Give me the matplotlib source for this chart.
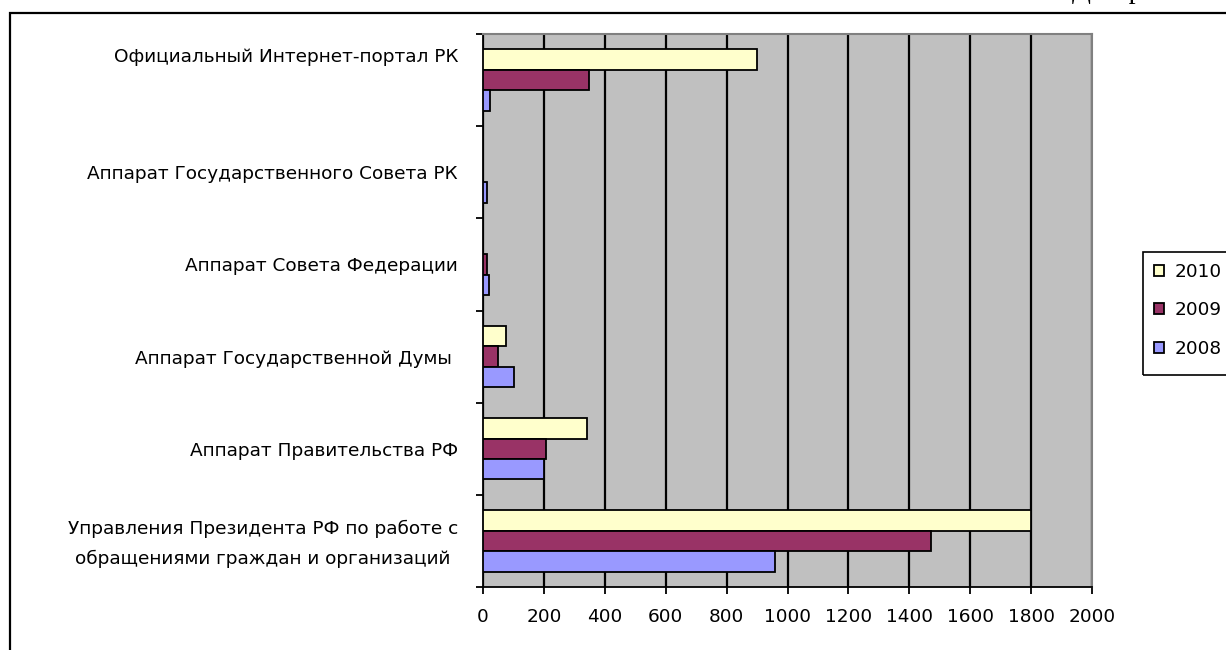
import matplotlib
matplotlib.use("Agg")
import matplotlib.pyplot as plt
from matplotlib.patches import Rectangle
from matplotlib.transforms import ScaledTranslation
import numpy as np

# categories listed bottom to top
categories = [
    "Управления Президента РФ по работе с\nобращениями граждан и организаций",
    "Аппарат Правительства РФ",
    "Аппарат Государственной Думы ",
    "Аппарат Совета Федерации",
    "Аппарат Государственного Совета РК",
    "Официальный Интернет-портал РК",
]
years = ["2010", "2009", "2008"]
v2010 = [1800, 340, 75, 0, 0, 900]
v2009 = [1470, 208, 48, 14, 0, 347]
v2008 = [958, 200, 103, 21, 14, 22]
xticks = list(range(0, 2001, 200))

colors = {"2010": "#FFFFCC", "2009": "#993366", "2008": "#9999FF"}

plt.rcParams['font.family'] = ['DejaVu Sans']
fs = 13.3

fig = plt.figure(figsize=(12.26, 6.5), dpi=100)
ax = fig.add_axes([483 / 1226, 1 - 587 / 650, (1092 - 483) / 1226, (587 - 34) / 650])
ax.set_facecolor("#C0C0C0")

y = np.arange(len(categories))
h = 1 / 4.5
bars = {}
for off, yr, vals in [(h, "2010", v2010), (0, "2009", v2009), (-h, "2008", v2008)]:
    bars[yr] = ax.barh(y + off, vals, height=h, color=colors[yr],
                       edgecolor="black", linewidth=1.3, label=yr, zorder=3)

ax.set_xlim(0, 2000)
ax.set_ylim(-0.5, len(categories) - 0.5)
ax.set_xticks(xticks)
ax.set_xticklabels([str(t) for t in xticks], fontsize=fs)
ax.set_yticks(y)
ax.set_yticklabels(categories, fontsize=fs, multialignment="center", linespacing=1.85)
ax.set_yticks(np.arange(-0.5, len(categories)), minor=True)
ax.tick_params(axis="y", which="major", length=0, pad=18)
ax.tick_params(axis="y", which="minor", length=5, width=1.3, direction="out")
ax.tick_params(axis="x", length=5, width=1.3, direction="out", pad=10)

ax.set_axisbelow(True)
ax.xaxis.grid(True, color="black", linewidth=1.6, zorder=1)
for s in ["left", "bottom"]:
    ax.spines[s].set_color("black")
    ax.spines[s].set_linewidth(1.3)
for s in ["top", "right"]:
    ax.spines[s].set_color("#808080")
    ax.spines[s].set_linewidth(1.5)

# label offsets as in the original
lbls = ax.get_yticklabels()
lbls[-1].set_transform(lbls[-1].get_transform() + ScaledTranslation(0, 0.25, fig.dpi_scale_trans))
lbls[0].set_transform(lbls[0].get_transform() + ScaledTranslation(0, 0.05, fig.dpi_scale_trans))

leg = fig.legend(handles=[bars[yr] for yr in years], labels=years,
                 loc="upper left", bbox_to_anchor=(1143 / 1226, 1 - 252 / 650),
                 bbox_transform=fig.transFigure, fontsize=fs, frameon=False,
                 handlelength=0.55, handleheight=0.55,
                 handletextpad=0.55, labelspacing=1.1, borderpad=0.6,
                 borderaxespad=0)

# legend box runs past the right edge, as in the original
fig.add_artist(Rectangle((1143 / 1226, 1 - 375 / 650), 0.2, 123 / 650,
                         fill=False, edgecolor="black", linewidth=1.2,
                         transform=fig.transFigure))

# outer chart frame (only left and top edges visible)
fig.add_artist(Rectangle((10 / 1226, -0.1), 1.2, 0.1 + (650 - 13) / 650,
                         fill=False, edgecolor="black", linewidth=1.6,
                         transform=fig.transFigure))

# clipped heading above the frame
fig.text(1072 / 1226, 1 + 2 / 650, "Диаграмма", family="Liberation Serif",
         fontsize=20, va="baseline", ha="left")

fig.savefig("out.png", dpi=100)
